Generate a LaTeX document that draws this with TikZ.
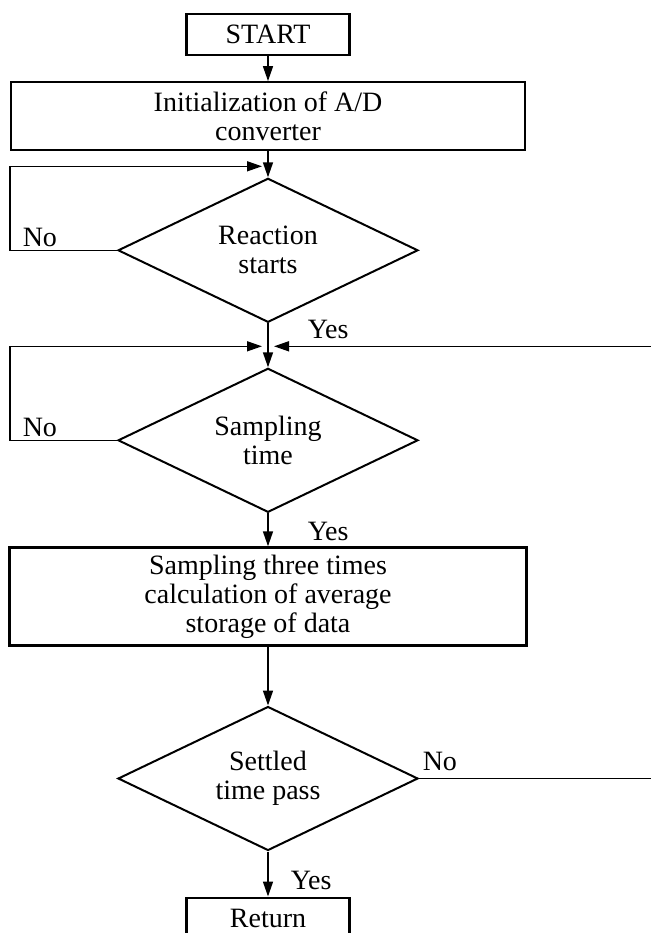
\documentclass[tikz,border=0pt]{standalone}
\usepackage{fontspec}
\setmainfont{Liberation Serif}
\usetikzlibrary{positioning,shapes.geometric,arrows.meta,calc}
\tikzset{
  pbox/.style={rectangle,draw,line width=1.1pt,align=center,
    minimum width=#1,minimum height=20.5pt,inner sep=2pt,
    font=\fontsize{14pt}{14.5pt}\selectfont},
  pbox/.default=81.5pt,
  decision/.style={diamond,draw,line width=1pt,align=center,
    aspect=2.08,minimum width=150pt,minimum height=72pt,inner sep=0pt,
    font=\fontsize{14pt}{14.5pt}\selectfont},
  arrow/.style={-{Triangle[length=7.5pt,width=5pt]},line width=0.75pt},
  note/.style={font=\fontsize{14pt}{14.5pt}\selectfont,inner sep=1.5pt}
}

\begin{document}
\begin{tikzpicture}[node distance=14pt]
  \useasboundingbox (0,0) rectangle (325.5pt,-466.5pt);
  \node[pbox] (start) at (134pt,-17.25pt) {START};
  \node[pbox=257pt, minimum height=34pt, below=12.5pt of start] (init)
    {Initialization of A/D\\converter};
  \node[decision, below=13pt of init] (react) {Reaction\\starts};
  \node[decision, below=22pt of react] (samp) {Sampling\\time};
  \node[pbox=258.5pt, minimum height=49pt, below=16.5pt of samp] (store)
    {Sampling three times\\calculation of average\\storage of data};
  \node[decision, below=29.5pt of store] (settle) {Settled\\time pass};
  \node[pbox, below=22.5pt of settle] (ret) {Return};
  % junctions on the main line, left and right return edges
  \coordinate (j1) at ($(react.north)+(0,5.5pt)$);
  \coordinate (j2) at ($(samp.north)+(0,10.5pt)$);
  \coordinate (edgeL) at (5pt,0);
  \coordinate (edgeR) at (332pt,0);
  \draw[arrow] (start) -- (init);
  \draw[arrow] (init) -- (react);
  \draw[arrow] (react) -- node[note,pos=0.15,anchor=west,xshift=18pt]{Yes} (samp);
  \draw[arrow] (samp) -- node[note,pos=0.54,anchor=west,xshift=18pt]{Yes} (store);
  \draw[arrow] (store) -- (settle);
  \draw[arrow] (settle) -- node[note,pos=0.64,anchor=west,xshift=9.5pt]{Yes} (ret);
  \draw[arrow, shorten >=3pt] (react.west) -- (react.west -| edgeL)
    node[note,anchor=south west,xshift=4.5pt]{No} |- (j1);
  \draw[arrow, shorten >=3pt] (samp.west) -- (samp.west -| edgeL)
    node[note,anchor=south west,xshift=4.5pt]{No} |- (j2);
  \draw[arrow, shorten >=3pt] (settle.east)
    node[note,anchor=south west,yshift=2pt]{No}
    -- (settle.east -| edgeR) |- (j2);
\end{tikzpicture}
\end{document}
